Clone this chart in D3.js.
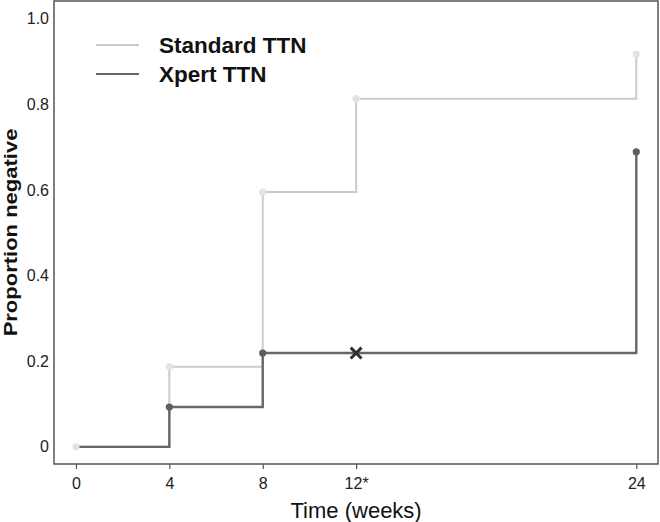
<!DOCTYPE html>
<html>
<head>
<meta charset="utf-8">
<script src="https://cdn.jsdelivr.net/npm/d3@7"></script>
<style>
  body { margin: 0; background: #fff; }
  text { font-family: "Liberation Sans", Arial, sans-serif; }
</style>
</head>
<body>
<svg id="chart" width="660" height="522"></svg>
<script>
// weeks of follow-up
const weeks = [0, 4, 8, 12, 24];
const tickLabels = ["0", "4", "8", "12*", "24"];

// proportion culture negative at each visit
const standardValues = [0, 0.187, 0.595, 0.813, 0.917];
const xpertValues = [0, 0.093, 0.219, 0.219, 0.689];

// visits where xpert has a censor mark instead of a dot
const xpertCensored = [false, false, false, true, false];

const seriesNames = ["Standard TTN", "Xpert TTN"];

const svg = d3.select("#chart");

const panel = { left: 54, right: 658, top: 1, bottom: 464 };

const x = d3.scaleLinear()
    .domain([-0.94, 24.93])
    .range([panel.left, panel.right]);

const y = d3.scaleLinear()
    .domain([-0.04, 1.041])
    .range([panel.bottom, panel.top]);

const stdLine = "#cbcbcb", stdPoint = "#e3e3e3";
const xpLine = "#676767", xpPoint = "#5e5e5e";

const toPts = vals => weeks.map((w, i) => ({ w: w, v: vals[i], i: i }));
const standard = toPts(standardValues);
const xpert = toPts(xpertValues);

const step = d3.line()
    .x(d => x(d.w))
    .y(d => y(d.v))
    .curve(d3.curveStepAfter);

// panel border
svg.append("rect")
    .attr("x", panel.left)
    .attr("y", panel.top)
    .attr("width", panel.right - panel.left)
    .attr("height", panel.bottom - panel.top)
    .attr("fill", "none")
    .attr("stroke", "#555")
    .attr("stroke-width", 1.5);

// x axis ticks
const xAxis = d3.axisBottom(x)
    .tickValues(weeks)
    .tickFormat((d, i) => tickLabels[i])
    .tickSize(5)
    .tickSizeOuter(0);

const gx = svg.append("g")
    .attr("transform", `translate(0,${panel.bottom})`)
    .call(xAxis);
gx.select(".domain").remove();
gx.selectAll(".tick line").attr("stroke", "#555").attr("stroke-width", 1.2);
gx.selectAll(".tick text")
    .attr("dy", null)
    .attr("y", 25)
    .attr("fill", "#222")
    .style("font-size", "16px");

// y axis labels
const yAxis = d3.axisLeft(y)
    .tickValues([0, 0.2, 0.4, 0.6, 0.8, 1.0])
    .tickFormat(d => d === 0 ? "0" : d3.format(".1f")(d))
    .tickSize(0)
    .tickPadding(5);

const gy = svg.append("g")
    .attr("transform", `translate(${panel.left},0)`)
    .call(yAxis);
gy.select(".domain").remove();
gy.selectAll(".tick text")
    .attr("fill", "#222")
    .style("font-size", "16px");

// step lines
svg.append("path")
    .attr("d", step(standard))
    .attr("fill", "none")
    .attr("stroke", stdLine)
    .attr("stroke-width", 2);

svg.append("path")
    .attr("d", step(xpert))
    .attr("fill", "none")
    .attr("stroke", xpLine)
    .attr("stroke-width", 2.4);

// xpert dots and censor cross
svg.append("g").selectAll("circle")
    .data(xpert.filter(d => d.w > 0 && !xpertCensored[d.i]))
    .join("circle")
    .attr("cx", d => x(d.w))
    .attr("cy", d => y(d.v))
    .attr("r", 3.6)
    .attr("fill", xpPoint);

const cross = d3.symbol().type(d3.symbolX).size(78);
svg.append("g").selectAll("path")
    .data(xpert.filter(d => xpertCensored[d.i]))
    .join("path")
    .attr("transform", d => `translate(${x(d.w)},${y(d.v)})`)
    .attr("d", cross)
    .attr("fill", "none")
    .attr("stroke", "#2f2f2f")
    .attr("stroke-width", 3);

svg.append("g").selectAll("circle")
    .data(standard)
    .join("circle")
    .attr("cx", d => x(d.w))
    .attr("cy", d => y(d.v))
    .attr("r", 3.6)
    .attr("fill", stdPoint);

// axis titles
svg.append("text")
    .attr("x", x(12))
    .attr("y", 518)
    .attr("text-anchor", "middle")
    .attr("fill", "#111")
    .style("font-size", "22px")
    .text("Time (weeks)");

svg.append("text")
    .attr("transform", `translate(17,${(panel.top + panel.bottom) / 2}) rotate(-90) scale(1,0.82)`)
    .attr("text-anchor", "middle")
    .attr("fill", "#111")
    .style("font-size", "22px")
    .style("font-weight", "bold")
    .text("Proportion negative");

// legend
const legendColors = [stdLine, xpLine];
const legend = svg.append("g").attr("transform", "translate(96,45)");
const items = legend.selectAll("g")
    .data(seriesNames)
    .join("g")
    .attr("transform", (d, i) => `translate(0,${i * 29})`);
items.append("line")
    .attr("x1", 0).attr("x2", 43)
    .attr("stroke", (d, i) => legendColors[i])
    .attr("stroke-width", 2.2);
items.append("text")
    .attr("x", 63)
    .attr("y", 8.3)
    .attr("fill", "#111")
    .style("font-size", "22.5px")
    .style("font-weight", "bold")
    .text(d => d);
</script>
</body>
</html>
